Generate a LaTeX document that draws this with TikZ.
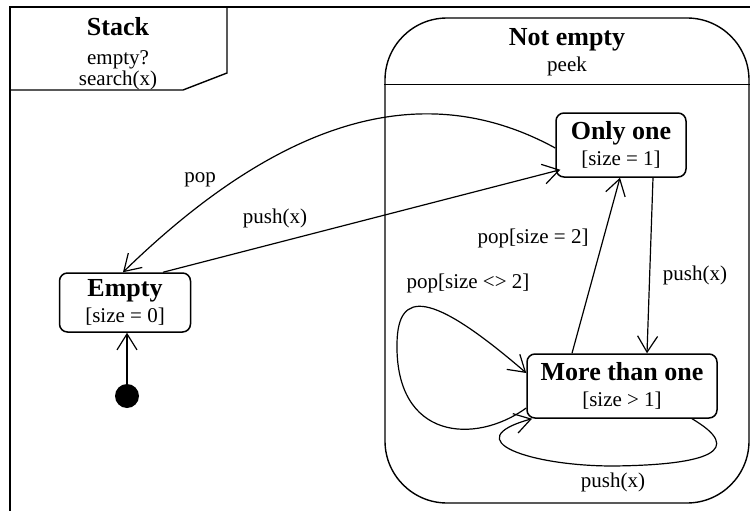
\documentclass[tikz,border=0pt]{standalone}
\usepackage{fontspec}
\setmainfont{Liberation Serif}
\usetikzlibrary{positioning,arrows.meta}

\newcommand{\stname}[1]{{\fontsize{26}{28}\selectfont\bfseries #1}}

\begin{document}
\begin{tikzpicture}[
    x=1pt, y=-1pt,
    % --- styles ---
    every node/.style={font=\fontsize{21}{26}\selectfont, inner sep=0pt},
    state/.style={draw, line width=1.5pt, rounded corners=8pt, align=center},
    init_dot/.style={circle, fill=black, minimum size=24pt},
    trans/.style={line width=1.2pt, -{Straight Barb[length=16pt,width=20pt]}},
    frame_line/.style={line width=1.4pt}
  ]
  \useasboundingbox (0,0) rectangle (750,511);

  % outer frame with its tab
  \draw[frame_line] (750,7) -- (10,7) -- (10,511);
  \draw[frame_line] (10,90) -- (183,90) -- (227,73) -- (227,7);
  \node[anchor=base] (stack) at (118,36) {\stname{Stack}};
  \node[anchor=base] (opempty) at (118,65) {empty?};
  \node[anchor=base] (opsearch) at (118,85) {search(x)};

  % composite state
  \node[draw, line width=1.4pt, rounded corners=62pt, minimum width=364pt, minimum height=485pt] (notempty) at (567,260.5) {};
  \draw[frame_line] ([yshift=-67pt]notempty.north west) -- ([yshift=-67pt]notempty.north east);
  \node[anchor=base] (netitle) at (567,46) {\stname{Not empty}};
  \node[anchor=base] (nepeek) at (567,72) {peek};

  % states
  \node[state, minimum width=131pt, minimum height=59pt] (empty) at (125,302.5) {\stname{Empty}\\{[size = 0]}};
  \node[state, minimum width=130pt, minimum height=64pt] (only) at (621,145) {\stname{Only one}\\{[size = 1]}};
  \node[state, minimum width=190pt, minimum height=64pt] (more) at (622,386) {\stname{More than one}\\{[size > 1]}};
  \node[init_dot] (start) at (127,396) {};

  % transitions
  \draw[trans] (start) -- (empty.south -| start);
  \draw[trans] ([yshift=-3pt]only.west) .. controls (440,85) and (300,100) .. ([xshift=-2pt]empty.north);
  \node (lpop) at (200,180) {pop};
  \draw[trans] ([xshift=38pt]empty.north) -- ([xshift=5pt,yshift=8pt]only.south west);
  \node (lpush) at (275,218) {push(x)};
  \draw[trans] ([xshift=-50pt]more.north) -- ([xshift=-1pt]only.south);
  \node (lpoptwo) at (533,238) {pop[size = 2]};
  \draw[trans] ([xshift=32pt]only.south) -- ([xshift=25pt]more.north);
  \node (lpushtwo) at (695,275) {push(x)};

  % self loops on More than one
  \draw[trans] ([yshift=-22pt]more.west) .. controls (475,445) and (395,440) .. (397,343)
    .. controls (398,290) and (430,290) .. ([yshift=13pt]more.west);
  \node (lpopne) at (468,283) {pop[size <> 2]};
  \draw[trans] ([xshift=70pt]more.south) .. controls (745,450) and (710,465) .. (613,466)
    .. controls (530,466) and (455,440) .. ([xshift=-90pt]more.south);
  \node (lpushthree) at (613,482) {push(x)};
\end{tikzpicture}
\end{document}
